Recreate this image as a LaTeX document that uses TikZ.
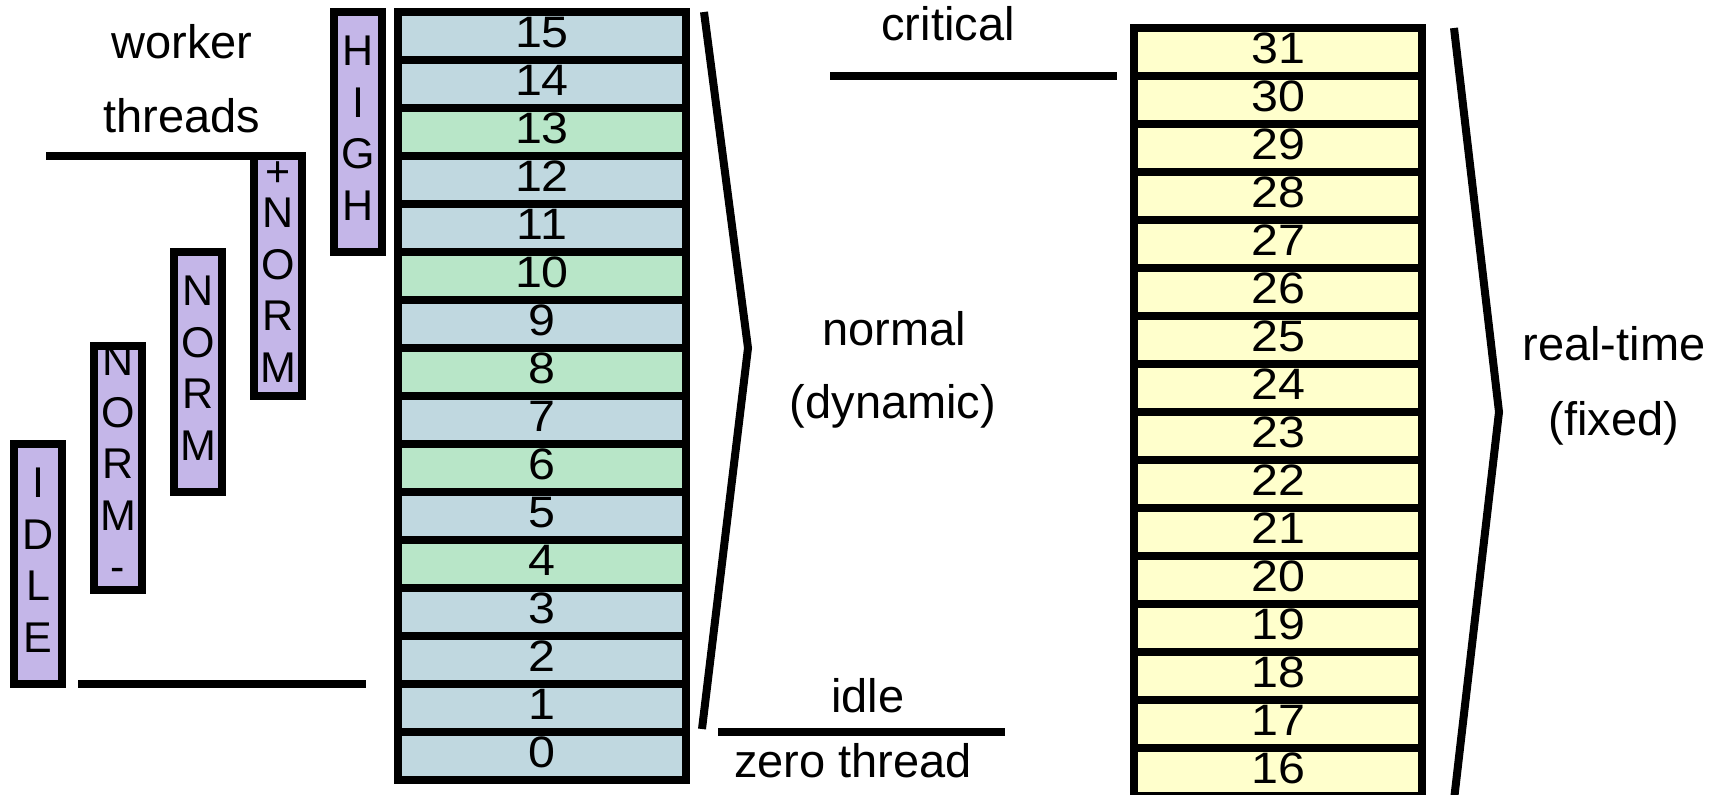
\documentclass[tikz,border=0pt]{standalone}
\usepackage{fontspec}
\setmainfont{Liberation Sans}
\newfontfamily\rowdigits[FakeStretch=1.1]{Liberation Sans}
\definecolor{rowblue}{RGB}{192,216,224}
\definecolor{rowgreen}{RGB}{184,230,200}
\definecolor{rowyellow}{RGB}{255,255,204}
\definecolor{classpurple}{RGB}{196,182,232}
\begin{document}
\begin{tikzpicture}[x=1pt,y=-1pt,
  prio/.style={draw, line width=8pt, minimum width=288pt, minimum height=48pt,
    inner sep=0pt, outer sep=0pt, font=\rowdigits\fontsize{44}{44}\selectfont,
    text height=31pt, text depth=8pt},
  dynrow/.style={prio, fill=rowblue},
  boostrow/.style={prio, fill=rowgreen},
  rtrow/.style={prio, fill=rowyellow},
  classbox/.style={draw, fill=classpurple, line width=8pt, minimum width=48pt,
    minimum height=240pt, inner sep=0pt, outer sep=0pt, align=center,
    font=\fontsize{43}{51.5}\selectfont, text depth=8pt},
  rule/.style={line width=8pt},
  caption/.style={font=\fontsize{47}{47}\selectfont, anchor=base, inner sep=0pt},
]
\useasboundingbox (0,0) rectangle (1725,795);

% variable (dynamic) priorities 0..15
\foreach \n/\s in {15/dynrow,14/dynrow,13/boostrow,12/dynrow,11/dynrow,10/boostrow,
                   9/dynrow,8/boostrow,7/dynrow,6/boostrow,5/dynrow,4/boostrow,
                   3/dynrow,2/dynrow,1/dynrow,0/dynrow}
  \node[\s] (p\n) at (542,{36+(15-\n)*48}) {\n};

% real-time (fixed) priorities 16..31
\foreach \n in {31,30,...,16}
  \node[rtrow] (p\n) at (1278,{52+(31-\n)*48}) {\n};

% priority classes
\node[classbox] (high) at (358,132) {H\\I\\G\\H};
\node[classbox] (plusnorm) at (278,276) {+\\[-10pt]N\\O\\R\\M};
\node[classbox] (norm) at (198,372) {N\\O\\R\\M};
\node[classbox] (normminus) at (118,468) {N\\O\\R\\M\\-};
\draw[rule] (normminus.north west) rectangle (normminus.south east);
\node[classbox] (idlecls) at (38,564) {I\\D\\L\\E};

% worker threads boundary
\coordinate (wtl) at (46,156);
\draw[rule] (wtl) -- (plusnorm.north east);
\node[caption] (worker) at (182,58) {worker};
\node[caption] (threads) at (182,132) {threads};

% idle boundary on the left
\coordinate (il1) at (78,684);
\coordinate (il2) at (366,684);
\draw[rule] (il1) -- (il2);

% critical boundary
\coordinate (cr1) at (830,76);
\coordinate (cr2) at (1117,76);
\draw[rule] (cr1) -- (cr2);
\node[caption] (critical) at (948,40) {critical};

% idle / zero thread boundary
\coordinate (zt1) at (718,732);
\coordinate (zt2) at (1005,732);
\draw[rule] (zt1) -- (zt2);
\node[caption] (idle) at (868,712) {idle};
\node[caption] (zero) at (853,777) {zero thread};

% braces
\coordinate (b1a) at (704,12);
\coordinate (b1b) at (748,348);
\coordinate (b1c) at (702,729);
\draw[rule] (b1a) -- (b1b) -- (b1c);
\node[caption] (normal) at (894,345) {normal};
\node[caption] (dynamic) at (893,418) {(dynamic)};

\coordinate (b2a) at (1454,28);
\coordinate (b2b) at (1499,412);
\coordinate (b2c) at (1454,800);
\draw[rule] (b2a) -- (b2b) -- (b2c);
\node[caption] (realtime) at (1614,360) {real-time};
\node[caption] (fixed) at (1614,435) {(fixed)};
\end{tikzpicture}
\end{document}
